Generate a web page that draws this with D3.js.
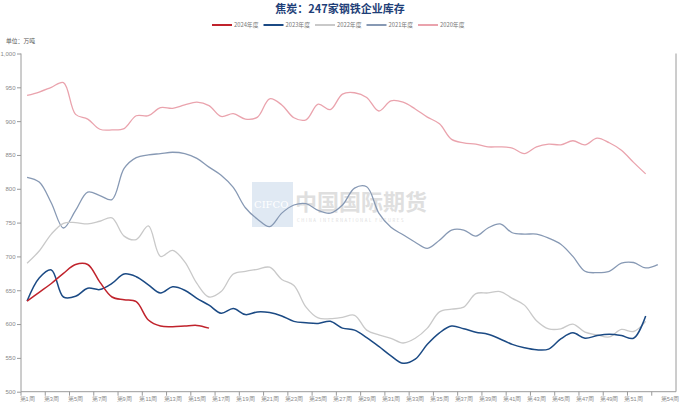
<!DOCTYPE html>
<html>
<head>
<meta charset="utf-8">
<script src="https://cdn.jsdelivr.net/npm/d3@7/dist/d3.min.js"></script>
<style>
  html, body { margin: 0; padding: 0; background: #fff; }
  svg { display: block; font-family: "Noto Sans CJK SC", "Noto Sans", sans-serif; }
</style>
</head>
<body>
<svg id="chart" width="680" height="406"></svg>
<script>
// ---------- data ----------
const weeks = d3.range(1, 55).map(i => "第" + i + "周");
const xLabels = d3.range(1, 52, 2).map(i => "第" + i + "周").concat(["第54周"]);
const yTicks = [500, 550, 600, 650, 700, 750, 800, 850, 900, 950, 1000];

const s2024 = [634, 647, 660, 675, 688, 688, 662, 640, 636, 633, 606, 597, 596, 597, 598, 594];
const s2023 = [634, 668, 680, 640, 641, 653, 651, 660, 674, 670, 658, 646, 655, 650, 638, 628, 616, 623, 614, 618,
               617, 612, 604, 602, 601, 604, 594, 591, 580, 567, 553, 542, 548, 570, 587, 597, 593, 588, 585, 578,
               570, 565, 562, 563, 578, 587, 579, 583, 585, 583, 579, 612];
const s2022 = [690, 708, 733, 749, 750, 748, 752, 757, 730, 725, 745, 700, 709, 692, 660, 640, 648, 674, 678, 681,
               684, 666, 657, 625, 609, 608, 610, 613, 591, 584, 579, 572, 579, 594, 618, 622, 625, 645, 646, 648,
               638, 628, 605, 593, 593, 600, 588, 584, 581, 592, 589, 604];
const s2021 = [817, 810, 779, 742, 768, 795, 790, 784, 830, 846, 850, 852, 854, 852, 845, 832, 820, 802, 772, 755,
               744, 764, 776, 778, 768, 764, 776, 801, 803, 764, 743, 732, 721, 712, 724, 739, 739, 730, 742, 748,
               735, 733, 733, 727, 718, 700, 678, 676, 678, 690, 691, 683, 688];
const s2020 = [938, 943, 950, 957, 910, 903, 888, 887, 889, 908, 908, 920, 919, 924, 928, 923, 907, 911, 903, 906,
               933, 924, 905, 902, 925, 917, 940, 942, 935, 915, 930, 928, 918, 906, 896, 873, 868, 866, 862, 862,
               860, 852, 862, 866, 865, 871, 865, 875, 868, 857, 839, 822];

const seriesNames = ["2024年度", "2023年度", "2022年度", "2021年度", "2020年度"];
const seriesData = [s2024, s2023, s2022, s2021, s2020];
const seriesColors = ["#c0232c", "#1b4a84", "#c9c9c9", "#8799b4", "#eaa3ad"];

// ---------- layout ----------
const svg = d3.select("#chart");
const W = 680, H = 406;
const pL = 21, pR = 676, pT = 53.5, pB = 391.7;

const x = d3.scaleBand().domain(weeks).range([pL, pR]).paddingInner(0).paddingOuter(0);
const bw = x.bandwidth();
const xc = i => x(weeks[i]) + bw / 2;
const y = d3.scaleLinear().domain([500, 1000]).range([pB, pT]);

// title
svg.append("text").attr("x", W / 2).attr("y", 13).attr("text-anchor", "middle")
  .attr("font-size", 11).attr("font-weight", "bold").attr("fill", "#1f3f78")
  .text("焦炭：247家钢铁企业库存");

// legend
const legendX0 = 212, legendStep = 51.5;
seriesNames.forEach((n, i) => {
  const g = svg.append("g").attr("transform", `translate(${legendX0 + i * legendStep},25)`);
  g.append("line").attr("x1", 0).attr("x2", 20).attr("y1", 0).attr("y2", 0)
    .attr("stroke", seriesColors[i]).attr("stroke-width", 2);
  g.append("text").attr("x", 22).attr("y", 2).attr("font-size", 5.8).attr("fill", "#777").text(n);
});

// unit
svg.append("text").attr("x", 6).attr("y", 43).attr("font-size", 5.8).attr("fill", "#555").text("单位：万吨");

// watermark
const wm = svg.append("g").attr("opacity", 0.75);
wm.append("rect").attr("x", 252).attr("y", 182).attr("width", 41).attr("height", 45).attr("fill", "#d6e2f0");
wm.append("text").attr("x", 254).attr("y", 208).attr("font-family", "DejaVu Serif, serif").attr("font-size", 10)
  .attr("fill", "#ffffff").text("CIFCO");
wm.append("text").attr("x", 295).attr("y", 210).attr("font-size", 22).attr("fill", "#d5d5d5")
  .attr("font-family", "Noto Sans CJK SC").attr("font-weight", "bold").text("中国国际期货");
wm.append("text").attr("x", 297).attr("y", 222).attr("font-size", 4.2).attr("fill", "#d0d0d0")
  .attr("letter-spacing", 1.6).text("CHINA INTERNATIONAL FUTURES");

// axes
const axisColor = "#9a9a9a";
const yAxis = svg.append("g").attr("transform", `translate(${pL},0)`)
  .call(d3.axisLeft(y).tickValues(yTicks).tickFormat(d3.format(",")).tickSize(4).tickPadding(1.5));
yAxis.selectAll("text").attr("font-size", 6).attr("fill", "#888");
yAxis.selectAll("line").attr("stroke", axisColor);
yAxis.select(".domain").attr("stroke", axisColor).attr("d", `M0,${pT}V${pB}`);

const xAxis = svg.append("g").attr("transform", `translate(0,${pB})`)
  .call(d3.axisBottom(x).tickValues(xLabels).tickSize(0).tickPadding(5));
xAxis.selectAll("text").attr("font-size", 5.6).attr("fill", "#888");
xAxis.select(".domain").attr("stroke", axisColor).attr("d", `M${pL},0H${pR}`);
const tickIdx = d3.range(0, 54, 2);
xAxis.selectAll(".bt").data(tickIdx).enter().append("line").attr("class", "bt")
  .attr("x1", d => x(weeks[d])).attr("x2", d => x(weeks[d])).attr("y1", 0).attr("y2", 4)
  .attr("stroke", axisColor);

// right axis line
svg.append("line").attr("x1", pR).attr("x2", pR).attr("y1", pT).attr("y2", pB)
  .attr("stroke", axisColor);

// lines (draw oldest first)
const line = d3.line().x((d, i) => xc(i)).y(d => y(d)).curve(d3.curveCatmullRom.alpha(0.5));
for (let k = seriesData.length - 1; k >= 0; k--) {
  svg.append("path").attr("d", line(seriesData[k])).attr("fill", "none")
    .attr("stroke", seriesColors[k]).attr("stroke-width", k <= 1 ? 1.5 : 1.3);
}
</script>
</body>
</html>
